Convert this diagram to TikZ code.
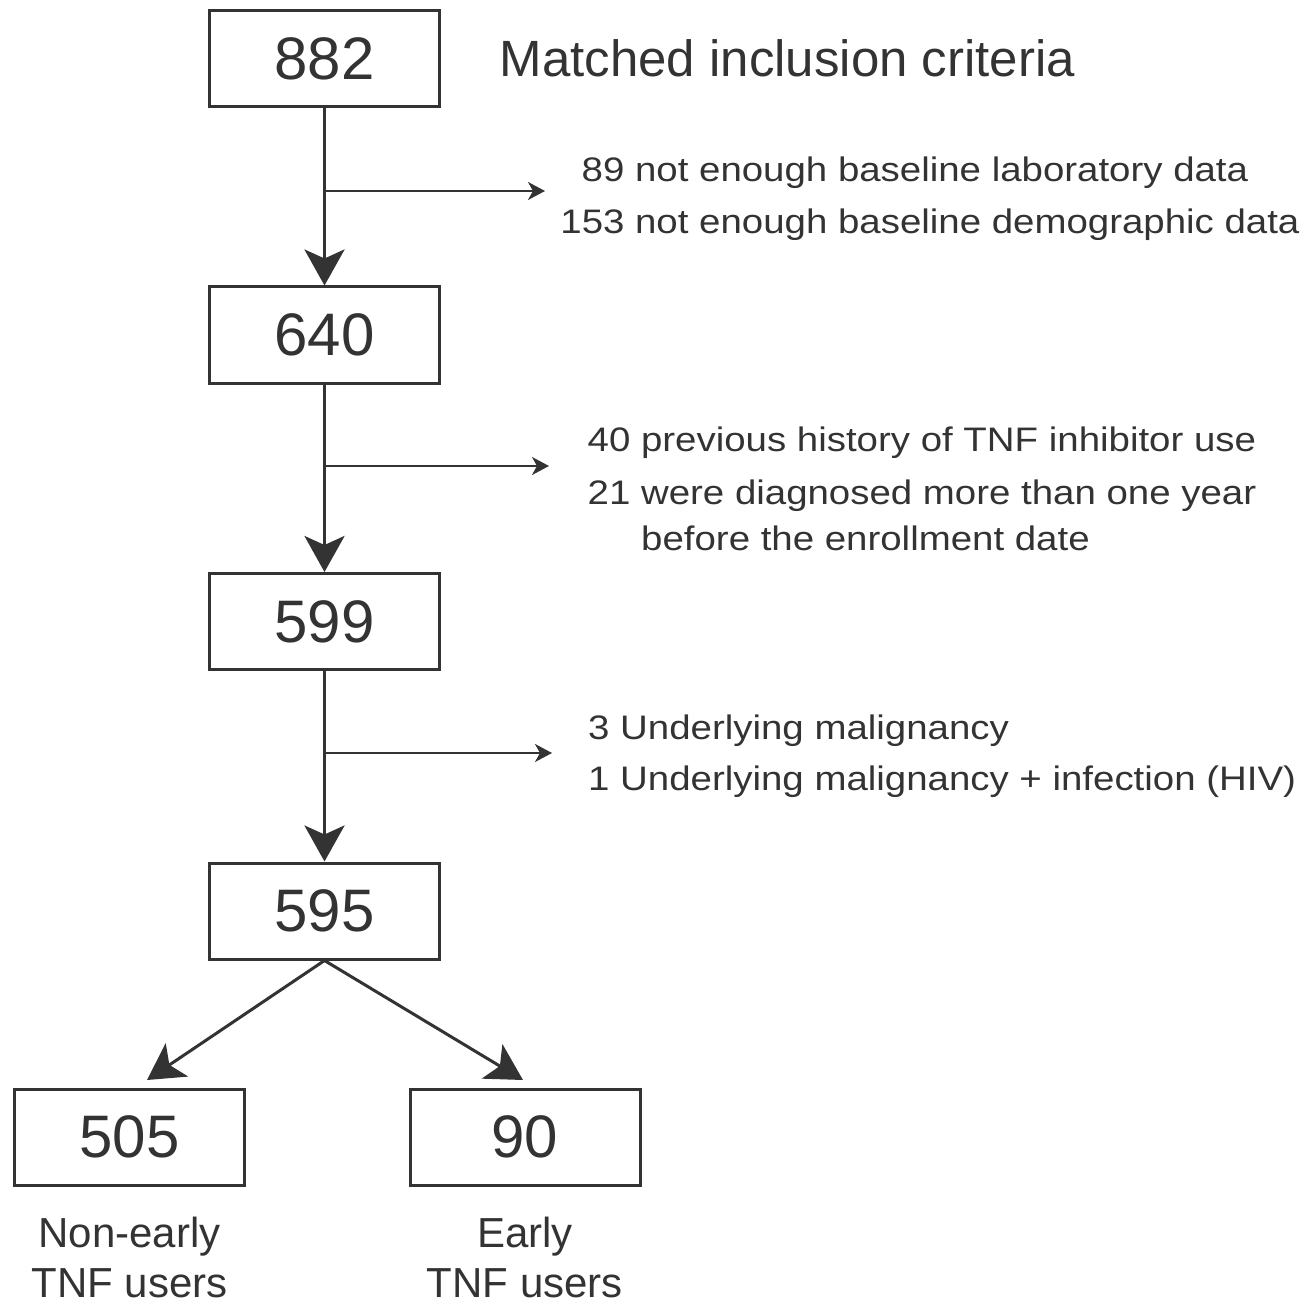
\documentclass[tikz,border=0pt]{standalone}
\usepackage{fontspec}
\setmainfont{Liberation Sans}
\newfontfamily\sidefont[FakeStretch=1.13]{Liberation Sans}
\usetikzlibrary{arrows.meta}
\definecolor{ink}{HTML}{333333}
\begin{document}
\begin{tikzpicture}[x=1pt,y=-1pt,
  numbox/.style={draw=ink, line width=3pt, minimum width=230pt, minimum height=96pt, inner sep=0pt,
    font=\fontsize{60}{72}\selectfont, text=ink},
  sidetxt/.style={anchor=base west, inner sep=0pt, font=\sidefont\fontsize{34}{40}\selectfont, text=ink},
  titletxt/.style={anchor=base west, inner sep=0pt, font=\fontsize{51}{60}\selectfont, text=ink},
  grouptxt/.style={anchor=base, inner sep=0pt, font=\fontsize{42}{50}\selectfont, text=ink},
  mainarrow/.style={draw=ink, line width=3.5pt, -{Stealth[length=36pt,width=40pt,inset=9pt]}},
  sidearrow/.style={draw=ink, line width=2pt, -{Stealth[length=17pt,width=18pt,inset=5pt]}}]
\useasboundingbox (0,0) rectangle (1311,1305);

% boxes
\node[numbox] (b882) at (324.5,58.5) {882};
\node[numbox] (b640) at (324.5,335) {640};
\node[numbox] (b599) at (324.5,621.5) {599};
\node[numbox] (b595) at (324.5,911) {595};
\node[numbox] (b505) at (129.5,1137) {505};
\node[numbox] (b90) at (525,1137) {90};

% title
\node[titletxt] (title) at (499.5,76.7) {Matched inclusion criteria};

% exclusion texts
\node[sidetxt] (e1a) at (581.5,181.7) {89 not enough baseline laboratory data};
\node[sidetxt] (e1b) at (560.2,233.3) {153 not enough baseline demographic data};
\node[sidetxt] (e2a) at (587.5,451.7) {40 previous history of TNF inhibitor use};
\node[sidetxt] (e2b) at (587.5,504) {21 were diagnosed more than one year};
\node[sidetxt] (e2c) at (641,550) {before the enrollment date};
\node[sidetxt] (e3a) at (588,739) {3 Underlying malignancy};
\node[sidetxt] (e3b) at (588,790.7) {1 Underlying malignancy + infection (HIV)};

% group labels
\node[grouptxt] (g1a) at (129.5,1247) {Non-early};
\node[grouptxt] (g1b) at (129.5,1297) {TNF users};
\node[grouptxt] (g2a) at (525,1247) {Early};
\node[grouptxt] (g2b) at (525,1297) {TNF users};

% main arrows
\draw[mainarrow] (b882.south) -- (b640.north);
\draw[mainarrow] (b640.south) -- (b599.north);
\draw[mainarrow] (b599.south) -- (b595.north);

% side arrows
\coordinate (j1) at (324.5,191);
\coordinate (x1) at (545,191);
\coordinate (j2) at (324.5,466);
\coordinate (x2) at (549,466);
\coordinate (j3) at (324.5,753);
\coordinate (x3) at (552,753);
\draw[sidearrow] (j1) -- (x1);
\draw[sidearrow] (j2) -- (x2);
\draw[sidearrow] (j3) -- (x3);

% split arrows
\coordinate (t1) at (147,1080);
\coordinate (t2) at (523,1080);
\draw[mainarrow, line width=3pt] (b595.south) -- (t1);
\draw[mainarrow, line width=3pt] (b595.south) -- (t2);
\end{tikzpicture}
\end{document}
